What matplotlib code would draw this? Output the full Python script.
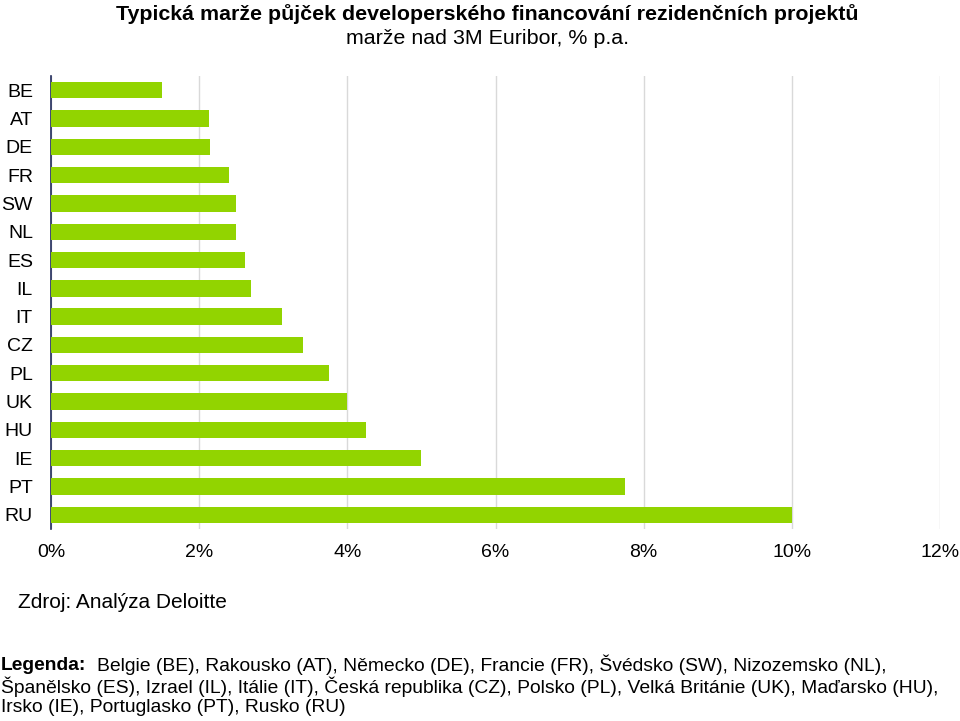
import matplotlib
matplotlib.use('Agg')
import matplotlib.pyplot as plt

plt.rcParams['font.family'] = ['Liberation Sans', 'DejaVu Sans']

# data
zeme = ['BE', 'AT', 'DE', 'FR', 'SW', 'NL', 'ES', 'IL', 'IT', 'CZ', 'PL', 'UK', 'HU', 'IE', 'PT', 'RU']
marze = [1.50, 2.13, 2.15, 2.40, 2.50, 2.50, 2.62, 2.70, 3.12, 3.40, 3.75, 4.00, 4.25, 5.00, 7.75, 10.0]
x_ticks = [0, 2, 4, 6, 8, 10, 12]
x_labels = ['0%', '2%', '4%', '6%', '8%', '10%', '12%']

fig = plt.figure(figsize=(9.6, 7.21), dpi=100)
ax = fig.add_axes([51/960, 1 - 529/721, 889/960, 453/721])

ax.barh(range(len(zeme)), marze, height=0.58, color='#92d400', zorder=3)
ax.set_ylim(len(zeme) - 0.5, -0.5)
ax.set_xlim(0, 12)
ax.set_yticks(range(len(zeme)))
ax.set_yticklabels(zeme, fontsize=14)
ax.set_xticks(x_ticks)
ax.set_xticklabels(x_labels, fontsize=14)
ax.tick_params(length=0)
ax.tick_params(axis='x', pad=11)
ax.tick_params(axis='y', pad=13)
ax.xaxis.grid(True, color='#d9d9d9', lw=1, zorder=0)
for s in ['top', 'right', 'bottom']:
    ax.spines[s].set_visible(False)
ax.spines['left'].set_color('#1f2a5a')
ax.spines['left'].set_linewidth(1.2)

fig.text(487/960, 1 - 14/721, 'Typická marže půjček developerského financování rezidenčních projektů',
         ha='center', va='center', fontsize=15.4, fontweight='bold')
fig.text(487/960, 1 - 38/721, 'marže nad 3M Euribor, % p.a.', ha='center', va='center', fontsize=15.4)

fig.text(18/960, 1 - 603/721, 'Zdroj: Analýza Deloitte', ha='left', va='center', fontsize=15)

fig.text(1/960, 1 - 665/721, 'Legenda:', ha='left', va='center', fontsize=13.9, fontweight='bold')
fig.text(97/960, 1 - 665/721,
         'Belgie (BE), Rakousko (AT), Německo (DE), Francie (FR), Švédsko (SW), Nizozemsko (NL),',
         ha='left', va='center', fontsize=13.9)
fig.text(1/960, 1 - 687/721,
         'Španělsko (ES), Izrael (IL), Itálie (IT), Česká republika (CZ), Polsko (PL), Velká Británie (UK), Maďarsko (HU),',
         ha='left', va='center', fontsize=13.9)
fig.text(1/960, 1 - 708/721, 'Irsko (IE), Portuglasko (PT), Rusko (RU)', ha='left', va='center', fontsize=13.9)

fig.savefig('out.png', dpi=100)
